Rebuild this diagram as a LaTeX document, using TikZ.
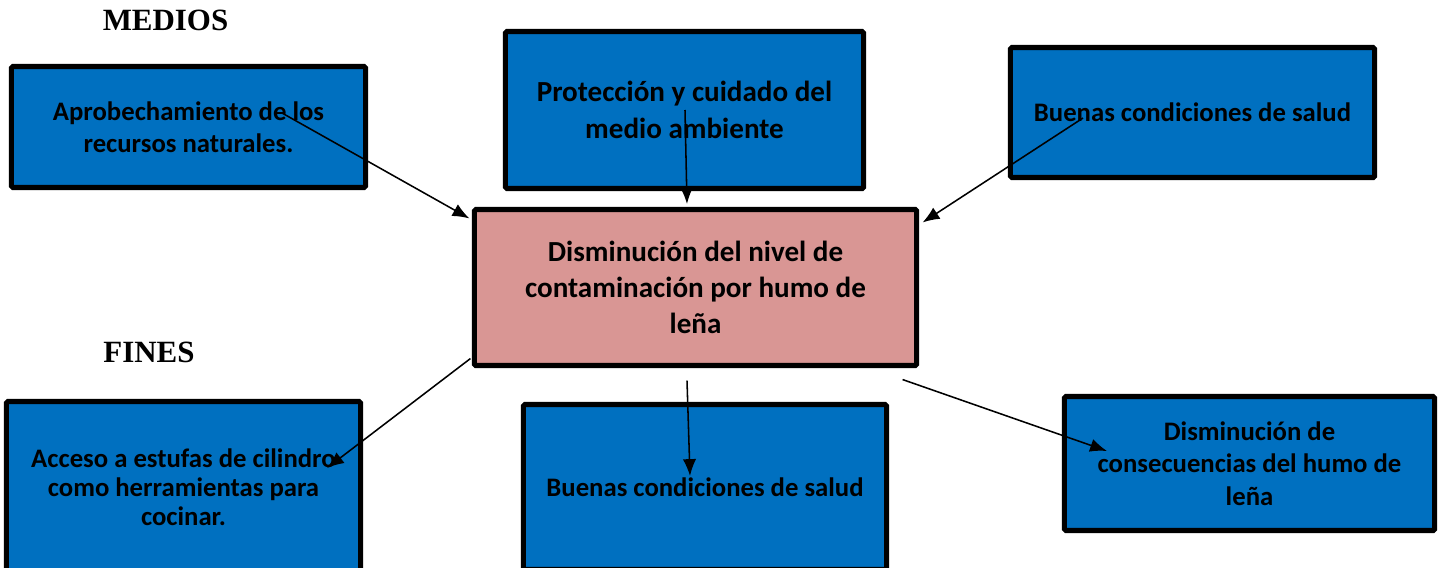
\documentclass[tikz,border=0pt]{standalone}
\usepackage{fontspec}
\setmainfont{Carlito}
\newfontfamily\titlefont{Liberation Serif}
\usetikzlibrary{arrows.meta,calc}
\definecolor{boxblue}{HTML}{0070C0}
\definecolor{boxpink}{HTML}{D99694}

\begin{document}
\begin{tikzpicture}[x=0.025cm,y=-0.025cm]
\tikzstyle{medio}=[draw, rectangle, line width=3.6pt, fill=boxblue, inner sep=0pt, align=center, rounded corners=1pt, font=\bfseries\fontsize{19}{23}\selectfont]
\tikzstyle{problema}=[medio, fill=boxpink, font=\bfseries\fontsize{20.7}{25.8}\selectfont]
\tikzstyle{line}=[draw, -{Latex[length=12pt,width=9.5pt]}, line width=1.1pt]
\tikzstyle{titulo}=[inner sep=0pt, font=\titlefont\bfseries\fontsize{22}{26}\selectfont]

\useasboundingbox (0,0) rectangle (1442,567);

% Titles
\node[titulo] (medios) at (165.5,20) {MEDIOS};
\node[titulo] (fines) at (149,352) {FINES};

% Central problem
\node[problema, minimum width=11.05cm, minimum height=3.9cm] (central) at (695.5,287.5) {Disminución del nivel de\\contaminación por humo de\\leña};

% Upper boxes
\node[medio, minimum width=8.85cm, minimum height=3.025cm] (apro) at (188.5,127) {Aprobechamiento de los\\recursos naturales.};
\node[medio, minimum width=8.95cm, minimum height=3.925cm, font=\bfseries\fontsize{20.7}{26.3}\selectfont] (prot) at (684.5,110) {Protección y cuidado del\\medio ambiente};
\node[medio, minimum width=9.1cm, minimum height=3.25cm] (saludA) at (1192.5,112.5) {Buenas condiciones de salud};

% Lower boxes
\node[medio, minimum width=8.85cm, minimum height=4.275cm, font=\bfseries\fontsize{19}{20.5}\selectfont] (acceso) at (183.5,487) {Acceso a estufas de cilindro\\como herramientas para\\cocinar.};
\node[medio, minimum width=9.075cm, minimum height=4.125cm] (saludB) at (705,487) {Buenas condiciones de salud};
\node[medio, minimum width=9.25cm, minimum height=3.35cm] (consec) at (1249.5,463.5) {Disminución de\\consecuencias del humo de\\leña};

% Arrows to the problem
\draw[line] ($(apro.center)+(93.5,-14)$) -- ($(central.north west)+(-2.5,11.5)$);
\draw[line] ($(prot.center)+(0.5,0)$) -- ($(central.north)+(-8.5,-3)$);
\draw[line] ($(saludA.center)+(-109.5,5.5)$) -- ($(central.north east)+(3.5,15.5)$);

% Arrows from the problem
\draw[line] ($(central.south west)+(-1.5,-9.5)$) -- ($(acceso.center)+(143.5,-19)$);
\draw[line] ($(central.south)+(-8.5,12.5)$) -- ($(saludB.center)+(-15,-11)$);
\draw[line] ($(central.south east)+(-16.5,11.5)$) -- ($(consec.center)+(-142.5,-12.5)$);
\end{tikzpicture}
\end{document}
